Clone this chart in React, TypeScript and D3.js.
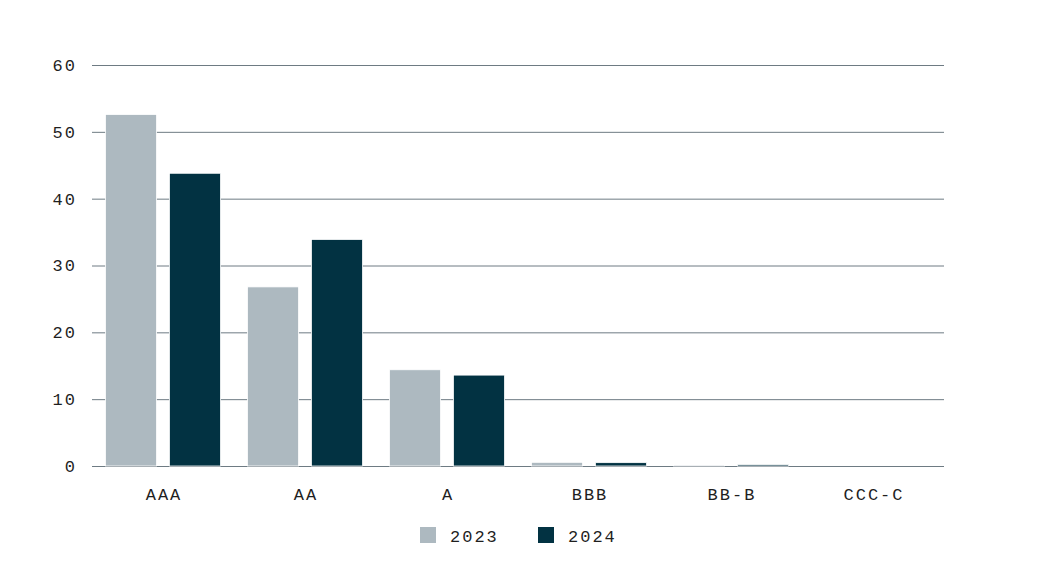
import React, { useEffect, useRef } from 'react';
import * as d3 from 'd3';

const categories = ['AAA', 'AA', 'A', 'BBB', 'BB-B', 'CCC-C'];
const seriesNames = ['2023', '2024'];
const values2023 = [52.6, 26.8, 14.4, 0.55, 0.15, 0];
const values2024 = [43.8, 33.9, 13.6, 0.5, 0.2, 0];
const yTicks = [0, 10, 20, 30, 40, 50, 60];

const colors = ['#adb9c0', '#023242'];
const width = 1053;
const height = 587;
const margin = { top: 65, right: 109, bottom: 121, left: 92 };
const font = '"Liberation Mono", "DejaVu Sans Mono", monospace';

export default function App() {
  const ref = useRef<SVGSVGElement>(null);

  useEffect(() => {
    if (!ref.current) return;
    const root = d3.select(ref.current);
    root.selectAll('*').remove();

    const graphWidth = width - margin.left - margin.right;
    const graphHeight = height - margin.top - margin.bottom;

    const svg = root
      .append('g')
      .attr('transform', `translate(${margin.left}, ${margin.top})`);

    const x = d3.scaleBand<string>().domain(categories).range([0, graphWidth]);
    const x1 = d3
      .scaleBand<string>()
      .domain(seriesNames)
      .range([0, x.bandwidth()])
      .paddingInner(0.2)
      .paddingOuter(0.21);
    const y = d3.scaleLinear().domain([0, 60]).range([graphHeight, 0]);

    // gridlines + y labels
    const yAxis = svg
      .append('g')
      .call(d3.axisLeft(y).tickValues(yTicks).tickSize(-graphWidth).tickPadding(17));
    yAxis.select('.domain').remove();
    yAxis.selectAll('.tick line').attr('stroke', '#6e7b83').attr('stroke-width', 1);
    yAxis
      .selectAll('.tick text')
      .attr('fill', '#1f1f1f')
      .attr('dx', '2px')
      .style('font-family', font)
      .style('font-size', '17px')
      .style('letter-spacing', '2px');

    const rows = categories.map((c, i) => ({ c, vals: [values2023[i], values2024[i]] }));

    svg
      .append('g')
      .selectAll('g')
      .data(rows)
      .enter()
      .append('g')
      .attr('transform', (d) => `translate(${x(d.c)}, 0)`)
      .selectAll('rect')
      .data((d) => d.vals.map((v, j) => ({ s: seriesNames[j], v, j })))
      .enter()
      .append('rect')
      .attr('x', (d) => x1(d.s) ?? 0)
      .attr('width', x1.bandwidth())
      .attr('y', (d) => y(d.v))
      .attr('height', (d) => graphHeight - y(d.v))
      .attr('fill', (d) => colors[d.j])
      .attr('stroke', (d) => (d.v > 0 ? '#ffffff' : 'none'))
      .attr('stroke-width', 0.8);

    // x labels
    const xAxis = svg
      .append('g')
      .attr('transform', `translate(0, ${graphHeight})`)
      .call(d3.axisBottom(x).tickSize(0).tickPadding(22));
    xAxis.select('.domain').remove();
    xAxis
      .selectAll('.tick text')
      .attr('fill', '#1f1f1f')
      .attr('dx', '1px')
      .style('font-family', font)
      .style('font-size', '17px')
      .style('letter-spacing', '2px');

    // legend
    const legend = root.append('g').attr('transform', 'translate(420, 527)');
    const legendX = [0, 118];
    seriesNames.forEach((s, i) => {
      const g = legend.append('g').attr('transform', `translate(${legendX[i]}, 0)`);
      g.append('rect').attr('width', 16).attr('height', 16).attr('fill', colors[i]);
      g.append('text')
        .attr('x', 30)
        .attr('y', 15)
        .attr('fill', '#1f1f1f')
        .style('font-family', font)
        .style('font-size', '17px')
        .style('letter-spacing', '2px')
        .text(s);
    });
  }, []);

  return <svg ref={ref} width={width} height={height} style={{ position: 'absolute', left: 0, top: 0, background: '#fff' }} />;
}
